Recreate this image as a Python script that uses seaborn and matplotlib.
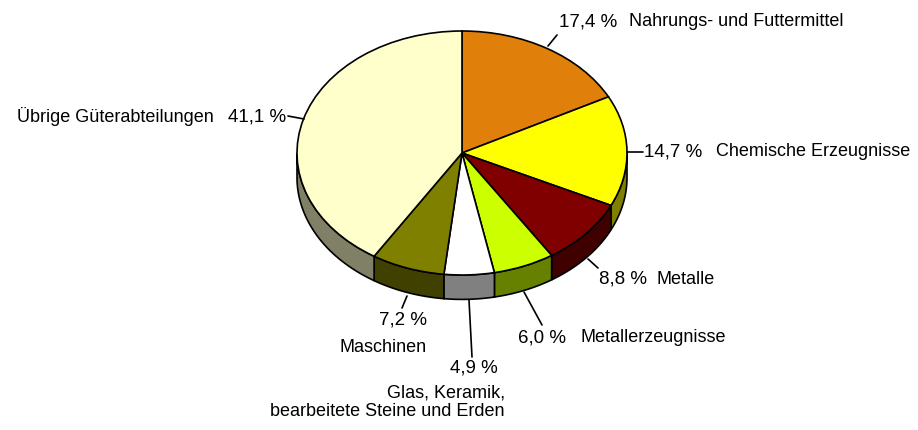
import matplotlib.pyplot as plt
import seaborn as sns
import numpy as np

# Güterabteilungen, clockwise from 12 o'clock
categories = ["Nahrungs- und Futtermittel", "Chemische Erzeugnisse", "Metalle",
              "Metallerzeugnisse", "Glas, Keramik,\nbearbeitete Steine und Erden",
              "Maschinen", "Übrige Güterabteilungen"]
shares = [17.4, 14.7, 8.8, 6.0, 4.9, 7.2, 41.1]
pct_labels = ["17,4 %", "14,7 %", "8,8 %", "6,0 %", "4,9 %", "7,2 %", "41,1 %"]
colors = ["#E07F0A", "#FFFF00", "#800000", "#CCFF00", "#FFFFFF", "#808000", "#FFFFCC"]

sns.set_theme(style="white")
plt.rcParams["font.family"] = ["Liberation Sans", "DejaVu Sans"]

W, H = 918, 430
CX, CY = 462, 153      # centre of the top face in pixels
RX, RY = 165, 122      # radii of the top face in pixels
DEPTH = 0.2            # wall height in radius units


def px(x, y):
    # pixel position -> data units (radius 1 = RX / RY pixels)
    return (x - CX) / RX, (CY - y) / RY


fig = plt.figure(figsize=(W / 100, H / 100), dpi=100)
ax = fig.add_axes([0, 0, 1, 1])

# top face
wedges, _ = ax.pie(shares, colors=colors, startangle=90, counterclock=False,
                    wedgeprops=dict(edgecolor="black", linewidth=1.2))
for w in wedges:
    w.set_zorder(3)

# side walls, only the front half (-180..0 degrees) is visible
bounds = 90 - 360 * np.concatenate([[0], np.cumsum(shares)]) / sum(shares)
for i, col in enumerate(colors):
    lo, hi = max(bounds[i + 1], -180), min(bounds[i], 0)
    if hi <= lo:
        continue
    t = np.radians(np.linspace(lo, hi, 60))
    top = np.column_stack([np.cos(t), np.sin(t)])
    bot = np.column_stack([np.cos(t[::-1]), np.sin(t[::-1]) - DEPTH])
    rgb = np.array(plt.matplotlib.colors.to_rgb(col)) * 0.5
    ax.fill(*np.vstack([top, bot]).T, facecolor=rgb, edgecolor="black",
            linewidth=1.2, zorder=2)

ax.set_aspect("auto")
ax.set_xlim(px(0, 0)[0], px(W, 0)[0])
ax.set_ylim(px(0, H)[1], px(0, 0)[1])
ax.axis("off")

fs = 13
tkw = dict(fontsize=fs, color="black", va="center")
pkw = dict(fontsize=13.5, color="black", va="center")
# leader lines: (start, end) in pixels
leaders = [((548, 46), (557, 35)), ((627, 152), (643, 152)), ((588, 259), (598, 268)),
           ((524, 292), (542, 325)), ((469, 300), (472, 357)), ((407, 296), (402, 308)),
           ((304, 119), (288, 116))]
for (s, e) in leaders:
    x0, y0 = px(*s)
    x1, y1 = px(*e)
    ax.plot([x0, x1], [y0, y1], color="black", lw=1.2, zorder=4)

# right-hand labels: pct left edge, name left edge, y
right = {0: (559, 629, 22), 1: (644, 716, 152), 2: (599, 657, 279), 3: (518, 580, 338)}
for i, (xp, xn, y) in right.items():
    ax.text(*px(xp, y), pct_labels[i], ha="left", **pkw)
    ax.text(*px(xn, y), categories[i], ha="left", **tkw)

# Übrige
ax.text(*px(286, 117), pct_labels[6], ha="right", **pkw)
ax.text(*px(214, 117), categories[6], ha="right", **tkw)
# Maschinen
ax.text(*px(427, 320), pct_labels[5], ha="right", **pkw)
ax.text(*px(427, 347), categories[5], ha="right", **tkw)
# Glas
ax.text(*px(498, 368), pct_labels[4], ha="right", **pkw)
ax.text(*px(505, 402), categories[4], ha="right", multialignment="right",
        linespacing=1.15, **tkw)

fig.savefig("out.png", dpi=100)
